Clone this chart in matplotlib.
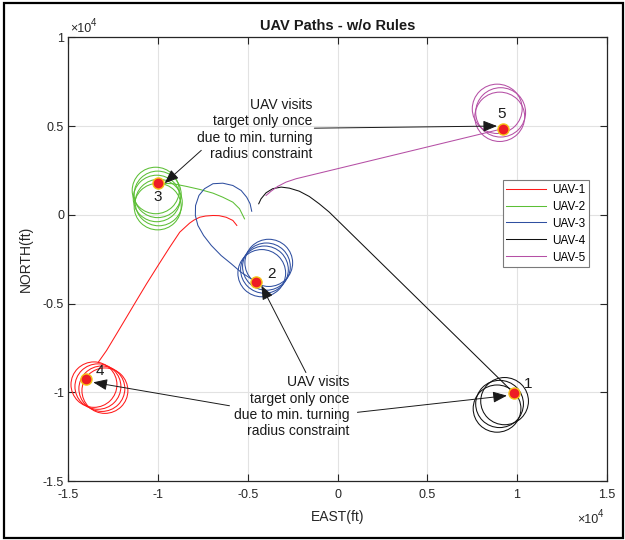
import matplotlib
matplotlib.use("Agg")
import matplotlib.pyplot as plt
from matplotlib.patches import Circle, Rectangle

plt.rcParams['font.family'] = ['Liberation Sans', 'DejaVu Sans']
plt.rcParams['axes.unicode_minus'] = False

# ---- data (units of 1e4 ft) ----
uav_labels = ['UAV-1', 'UAV-2', 'UAV-3', 'UAV-4', 'UAV-5']
uav_colors = ['#ff1a1a', '#5cbf35', '#2f4fa0', '#111111', '#b54fa5']

red_x = [-0.561, -0.583, -0.620, -0.660, -0.694, -0.735, -0.768, -0.800, -0.824, -0.879,
         -0.935, -1.000, -1.064, -1.120, -1.176, -1.231, -1.287, -1.333]
red_y = [-0.060, -0.032, -0.014, -0.005, -0.004, -0.007, -0.014, -0.030, -0.047, -0.098,
         -0.183, -0.286, -0.389, -0.483, -0.578, -0.671, -0.765, -0.831]

green_x = [-0.518, -0.546, -0.583, -0.639, -0.694, -0.768, -0.842, -0.917, -0.991]
green_y = [-0.023, 0.034, 0.071, 0.099, 0.122, 0.143, 0.160, 0.175, 0.178]

blue_x = [-0.478, -0.487, -0.506, -0.537, -0.583, -0.639, -0.694, -0.741, -0.772,
          -0.791, -0.792, -0.778, -0.746, -0.703, -0.648, -0.592, -0.537, -0.481, -0.453]
blue_y = [0.020, 0.062, 0.099, 0.137, 0.165, 0.178, 0.175, 0.147, 0.109,
          0.052, -0.004, -0.060, -0.117, -0.173, -0.230, -0.276, -0.324, -0.361, -0.380]

black_x = [-0.439, -0.426, -0.398, -0.361, -0.314, -0.268, -0.213, -0.157, -0.102,
           -0.046, 0.982]
black_y = [0.062, 0.090, 0.124, 0.147, 0.156, 0.150, 0.133, 0.103, 0.062,
           0.015, -1.004]

mag_x = [-0.398, -0.370, -0.333, -0.287, -0.231, 0.921]
mag_y = [0.109, 0.133, 0.160, 0.184, 0.203, 0.485]

# loiter circles: centre x, centre y, radius (per UAV)
red_cx = [-1.357, -1.335, -1.313, -1.296]
red_cy = [-0.957, -0.968, -0.980, -0.991]
red_r = [0.128, 0.128, 0.128, 0.128]

green_cx = [-1.013, -1.002, -1.007, -0.996, -1.002]
green_cy = [0.137, 0.115, 0.092, 0.069, 0.046]
green_r = [0.131, 0.131, 0.131, 0.131, 0.131]

blue_cx = [-0.422, -0.407, -0.396, -0.383]
blue_cy = [-0.329, -0.309, -0.292, -0.271]
blue_r = [0.133, 0.133, 0.133, 0.133]

black_cx = [0.903, 0.931, 0.889]
black_cy = [-1.066, -1.050, -1.092]
black_r = [0.133, 0.133, 0.133]

mag_cx = [0.890, 0.909, 0.904]
mag_cy = [0.597, 0.577, 0.552]
mag_r = [0.139, 0.139, 0.139]

# targets
target_ids = ['1', '2', '3', '4', '5']
target_x = [0.982, -0.453, -1.000, -1.403, 0.921]
target_y = [-1.004, -0.380, 0.178, -0.925, 0.485]
tlabel_x = [1.061, -0.370, -1.000, -1.324, 0.917]
tlabel_y = [-0.953, -0.333, 0.099, -0.878, 0.570]

note = "UAV visits\ntarget only once\ndue to min. turning\nradius constraint"
note_pos = [(-0.141, 0.481), (0.065, -1.081)]
# arrows: (tail x, tail y, head x, head y)
arrow_tail_x = [-0.759, -0.129, -0.176, -0.602, 0.111]
arrow_tail_y = [0.363, 0.488, -0.889, -1.076, -1.113]
arrow_head_x = [-0.963, 0.889, -0.424, -1.361, 0.944]
arrow_head_y = [0.178, 0.500, -0.399, -0.944, -1.019]

xticks = [-1.5, -1.0, -0.5, 0.0, 0.5, 1.0, 1.5]
xtick_labels = ['-1.5', '-1', '-0.5', '0', '0.5', '1', '1.5']
yticks = [-1.5, -1.0, -0.5, 0.0, 0.5, 1.0]
ytick_labels = ['-1.5', '-1', '-0.5', '0', '0.5', '1']

# ---- figure ----
fig = plt.figure(figsize=(6.25, 5.4), dpi=100)
ax = fig.add_axes([68.3 / 625, 1 - 481 / 540, (606.7 - 68.3) / 625, (481 - 37.3) / 540])

paths = [(red_x, red_y), (green_x, green_y), (blue_x, blue_y), (black_x, black_y), (mag_x, mag_y)]
circles = [(red_cx, red_cy, red_r), (green_cx, green_cy, green_r), (blue_cx, blue_cy, blue_r),
           (black_cx, black_cy, black_r), (mag_cx, mag_cy, mag_r)]
lw = 0.75
for (px, py), (cx, cy, rr), col, lab in zip(paths, circles, uav_colors, uav_labels):
    ax.plot(px, py, color=col, lw=lw, label=lab, zorder=3)
    for a, b, r in zip(cx, cy, rr):
        ax.add_patch(Circle((a, b), r, fill=False, edgecolor=col, lw=lw, zorder=3))

ax.plot(target_x, target_y, 'o', ms=8, mfc='#ee1c24', mec='#f5c518', mew=1.0, zorder=5)
for t, lx, ly in zip(target_ids, tlabel_x, tlabel_y):
    ax.text(lx, ly, t, fontsize=11, ha='center', va='center', color='#1a1a1a', zorder=6)

for tx, ty, hx, hy in zip(arrow_tail_x, arrow_tail_y, arrow_head_x, arrow_head_y):
    ax.annotate('', xy=(hx, hy), xytext=(tx, ty),
                arrowprops=dict(arrowstyle='-|>,head_length=0.85,head_width=0.34',
                                mutation_scale=10, color='#1a1a1a', lw=0.7,
                                shrinkA=0, shrinkB=0), zorder=7)
for (nx, ny) in note_pos:
    ax.text(nx, ny, note, fontsize=10, ha='right', va='center', multialignment='right',
            linespacing=1.2, color='#1a1a1a', zorder=7)

ax.set_xlim(-1.5, 1.5)
ax.set_ylim(-1.5, 1.0)
ax.set_xticks(xticks)
ax.set_xticklabels(xtick_labels)
ax.set_yticks(yticks)
ax.set_yticklabels(ytick_labels)
ax.tick_params(direction='in', length=5, width=0.8, top=True, right=True,
               labelsize=9, colors='#262626', pad=6)
ax.tick_params(axis='y', pad=3)
for s in ax.spines.values():
    s.set_color('#262626')
    s.set_linewidth(0.9)
ax.grid(True, color='#e2e2e2', lw=0.8, zorder=0)
ax.set_axisbelow(True)

ax.set_title('UAV Paths - w/o Rules', fontsize=10.5, fontweight='bold', pad=5, color='#1a1a1a')
ax.set_xlabel('EAST(ft)', fontsize=10, color='#262626', labelpad=6)
ax.set_ylabel('NORTH(ft)', fontsize=10, color='#262626', labelpad=7)

# exponent labels
fig.text(70 / 625, 1 - 29 / 540, '×10', fontsize=9, ha='left', va='center', color='#262626')
fig.text(90.5 / 625, 1 - 23 / 540, '4', fontsize=7, ha='left', va='center', color='#262626')
fig.text(577 / 625, 1 - 520 / 540, '×10', fontsize=9, ha='left', va='center', color='#262626')
fig.text(597.5 / 625, 1 - 514 / 540, '4', fontsize=7, ha='left', va='center', color='#262626')

leg = ax.legend(loc='upper left', bbox_to_anchor=(0.807, 0.678), fontsize=8.5,
                frameon=True, fancybox=False, edgecolor='#7a7a7a', framealpha=1,
                handlelength=3.4, handletextpad=0.45, borderpad=0.3,
                labelspacing=0.42, borderaxespad=0)
leg.get_frame().set_linewidth(0.8)

fig.add_artist(Rectangle((4 / 625, 2 / 540), 619 / 625, 535 / 540, transform=fig.transFigure,
                         fill=False, edgecolor='black', lw=1.6))

fig.savefig('out.png', dpi=100)
